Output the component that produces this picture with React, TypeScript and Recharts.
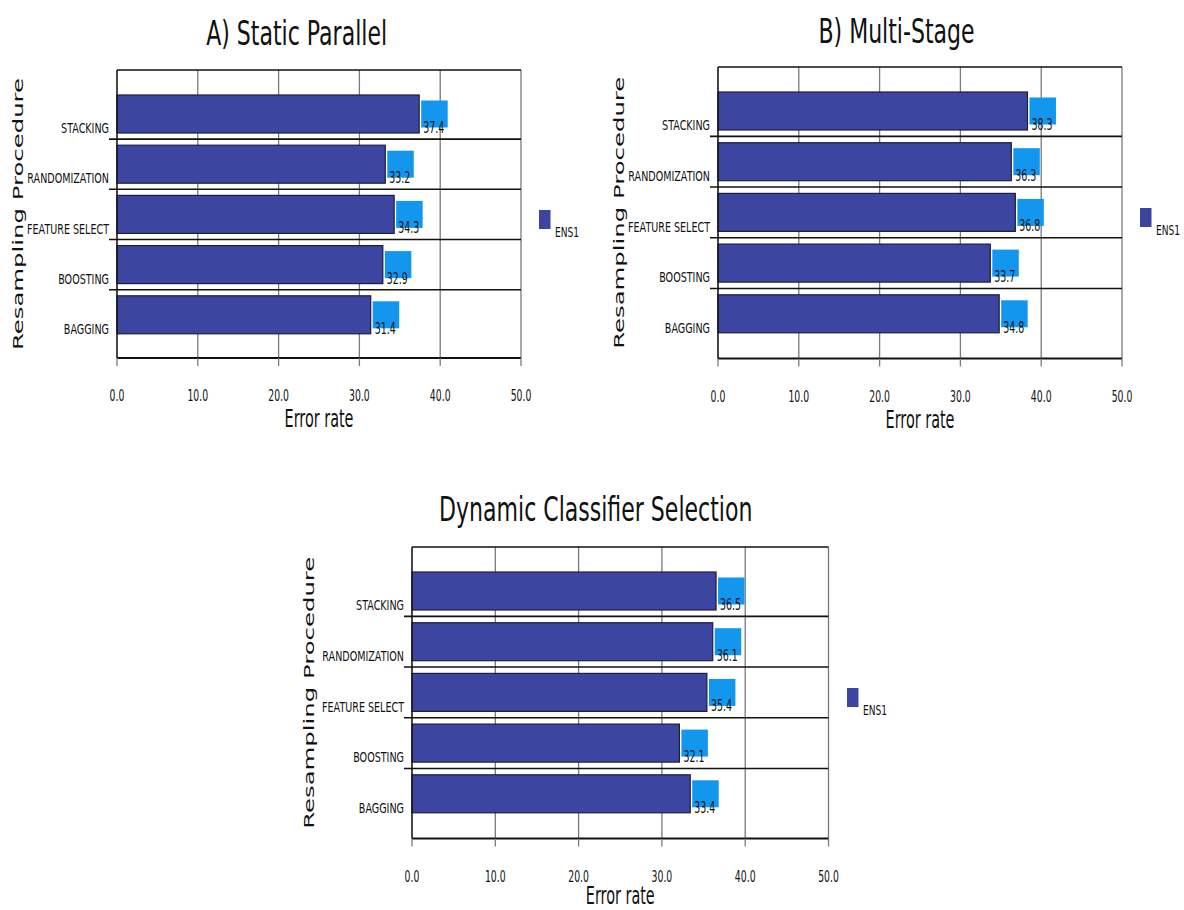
import { BarChart, Bar, XAxis, YAxis, CartesianGrid, Legend } from "recharts";

const categories = ["STACKING", "RANDOMIZATION", "FEATURE SELECT", "BOOSTING", "BAGGING"];
const staticParallel = [37.4, 33.2, 34.3, 32.9, 31.4];
const multiStage = [38.3, 36.3, 36.8, 33.7, 34.8];
const dynamicSelection = [36.5, 36.1, 35.4, 32.1, 33.4];
const xTicks = [0, 10, 20, 30, 40, 50];
const seriesName = "ENS1";
const axisTitle = "Error rate";
const categoryTitle = "Resampling Procedure";

const BAR = "#3c46a0";
const BOX = "#1296ee";
const INK = "#111";
const GRID = "#7a7a7a";
const FONT = "'DejaVu Sans', Verdana, sans-serif";
const AXIS_W = 117;
const LEG_W = 60;
const BAR_SIZE = 38;
const X_AXIS_H = 70;

function NarrowText({ x, y, size, sx, anchor = "start", children }: any) {
  return (
    <text
      transform={`translate(${x},${y}) scale(${sx},1)`}
      fontFamily={FONT}
      fontSize={size}
      textAnchor={anchor}
      fill={INK}
    >
      {children}
    </text>
  );
}

function YLabel({ viewBox, x0 }: any) {
  const cy = viewBox.y + viewBox.height / 2;
  return (
    <text
      transform={`translate(${x0},${cy}) rotate(-90) scale(1.74,1)`}
      textAnchor="middle"
      fontFamily={FONT}
      fontSize={14}
      fill={INK}
    >
      {categoryTitle}
    </text>
  );
}

function XLabel({ viewBox, dy }: any) {
  return (
    <NarrowText x={viewBox.x + viewBox.width / 2} y={viewBox.y + dy} size={24} sx={0.6} anchor="middle">
      {axisTitle}
    </NarrowText>
  );
}

function Panel({ values, left, top, plotW, plotH, marginTop, height, pad, yLabelX, xLabelDy }: any) {
  const data = categories.map((name, i) => ({ name, value: values[i] }));
  const width = AXIS_W + plotW + LEG_W;
  const band = (plotH - pad[0] - pad[1]) / categories.length;
  const gap = (band - BAR_SIZE) / 2;
  const last = categories.length - 1;

  const shape = (p: any) => {
    const { x, y, width: w, height: h, index, payload } = p;
    const end = x + w;
    const bottom = y + h;
    return (
      <g>
        {index < last && (
          <line x1={AXIS_W - 8} x2={AXIS_W + plotW} y1={bottom + gap} y2={bottom + gap} stroke={INK} strokeWidth={1.6} />
        )}
        <rect x={x} y={y} width={w} height={h} fill={BAR} stroke="#1c1c44" strokeWidth={1.2} />
        <rect x={end + 2} y={y + 5.5} width={26.5} height={h - 11} fill={BOX} />
        <NarrowText x={end + 4} y={bottom} size={15} sx={0.63}>
          {payload.value.toFixed(1)}
        </NarrowText>
      </g>
    );
  };

  const catTick = (p: any) => (
    <NarrowText x={AXIS_W - 8} y={p.y + BAR_SIZE / 2} size={13.5} sx={0.71} anchor="end">
      {p.payload.value}
    </NarrowText>
  );

  const numTick = (p: any) => (
    <NarrowText x={p.x} y={p.y + 35} size={15} sx={0.62} anchor="middle">
      {Number(p.payload.value).toFixed(1)}
    </NarrowText>
  );

  const legendContent = (lp: any) => {
    const item = (lp.payload && lp.payload[0]) || { value: seriesName };
    return (
      <svg width={LEG_W} height={40} style={{ display: "block" }}>
        <rect x={18} y={0} width={11.5} height={19} fill={BAR} />
        <NarrowText x={34} y={27} size={14} sx={0.65}>
          {item.value}
        </NarrowText>
      </svg>
    );
  };

  return (
    <div style={{ position: "absolute", left, top }}>
      <BarChart
        layout="vertical"
        width={width}
        height={height}
        data={data}
        margin={{ top: marginTop, right: 0, bottom: height - marginTop - plotH - X_AXIS_H, left: 0 }}
      >
        <CartesianGrid horizontal={false} stroke={GRID} strokeWidth={1.3} />
        <CartesianGrid
          vertical={false}
          horizontalCoordinatesGenerator={({ offset }: any) => [offset.top]}
          stroke={INK}
          strokeWidth={1.3}
        />
        <XAxis
          type="number"
          domain={[0, 50]}
          ticks={xTicks}
          height={X_AXIS_H}
          tickSize={8}
          tickMargin={0}
          tickLine={{ stroke: GRID, strokeWidth: 1.3 }}
          axisLine={{ stroke: INK, strokeWidth: 2 }}
          tick={numTick}
          label={<XLabel dy={xLabelDy} />}
        />
        <YAxis
          type="category"
          dataKey="name"
          width={AXIS_W}
          padding={{ top: pad[0], bottom: pad[1] }}
          tickLine={false}
          axisLine={{ stroke: INK, strokeWidth: 1.3 }}
          tick={catTick}
          label={<YLabel x0={yLabelX} />}
        />
        <Legend
          layout="vertical"
          align="right"
          verticalAlign="top"
          content={legendContent}
          wrapperStyle={{ top: marginTop + plotH / 2 - 4.5 }}
        />
        <Bar dataKey="value" name={seriesName} barSize={BAR_SIZE} shape={shape} isAnimationActive={false} />
      </BarChart>
    </div>
  );
}

function Title({ text, cx, baseline }: any) {
  return (
    <div
      style={{
        position: "absolute",
        left: cx - 300,
        top: baseline - 28.7,
        width: 600,
        textAlign: "center",
        fontFamily: FONT,
        fontSize: 34,
        lineHeight: "34px",
        color: INK,
        whiteSpace: "nowrap",
      }}
    >
      <span style={{ display: "inline-block", transform: "scaleX(0.648)" }}>{text}</span>
    </div>
  );
}

export default function App() {
  return (
    <div
      style={{
        position: "absolute",
        left: 0,
        top: 0,
        width: 1184,
        height: 910,
        overflow: "hidden",
        background: "#fff",
      }}
    >
      <Title text="A) Static Parallel" cx={297} baseline={45} />
      <Title text="B) Multi-Stage" cx={897} baseline={43} />
      <Title text="Dynamic Classifier Selection" cx={596} baseline={521} />
      <Panel
        values={staticParallel}
        left={0}
        top={0}
        plotW={404}
        plotH={288}
        marginTop={70}
        height={440}
        pad={[19, 18]}
        yLabelX={22.5}
        xLabelDy={69}
      />
      <Panel
        values={multiStage}
        left={601}
        top={0}
        plotW={404}
        plotH={291.5}
        marginTop={67}
        height={440}
        pad={[19, 19]}
        yLabelX={23}
        xLabelDy={69}
      />
      <Panel
        values={dynamicSelection}
        left={295}
        top={460}
        plotW={416.5}
        plotH={291.5}
        marginTop={87}
        height={450}
        pad={[19, 19]}
        yLabelX={18.5}
        xLabelDy={65.5}
      />
    </div>
  );
}
